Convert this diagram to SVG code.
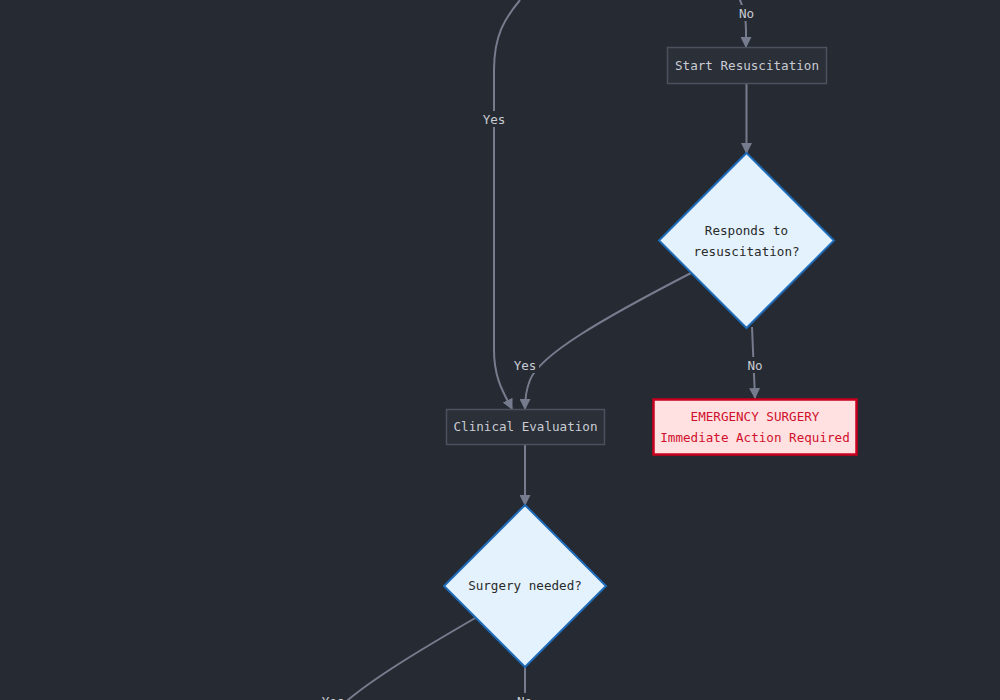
<svg xmlns="http://www.w3.org/2000/svg" width="1000" height="700" viewBox="0 0 1000 700">
<defs>
<marker id="arr" viewBox="0 0 10 10" refX="9" refY="5" markerWidth="11" markerHeight="11" markerUnits="userSpaceOnUse" orient="auto">
<path d="M0,0 L10,5 L0,10 z" fill="#767c8d"/>
</marker>
<style>
.bg{fill:#262a33}
.edge{fill:none;stroke:#767c8d;stroke-width:2;marker-end:url(#arr)}
.edgeb{fill:none;stroke:#767c8d;stroke-width:2}
.lbl{font-family:"DejaVu Sans Mono","Liberation Mono",monospace;font-size:12.6px;fill:#c9ccd3;text-anchor:middle;dominant-baseline:central}
.lblbg{fill:#262a33}
.box{fill:#2b2f38;stroke:#4c515d;stroke-width:1.5}
.boxt{font-family:"DejaVu Sans Mono","Liberation Mono",monospace;font-size:12.6px;fill:#c9ccd3;text-anchor:middle;dominant-baseline:central}
.dia{fill:#e3f2fd;stroke:#1e6bb8;stroke-width:2}
.diat{font-family:"DejaVu Sans Mono","Liberation Mono",monospace;font-size:12.6px;fill:#2a2a2a;text-anchor:middle;dominant-baseline:central}
.emg{fill:#ffe1e1;stroke:#c8001e;stroke-width:2.5}
.emgt{font-family:"DejaVu Sans Mono","Liberation Mono",monospace;font-size:12.6px;fill:#d0102c;text-anchor:middle;dominant-baseline:central}
</style>
</defs>
<rect class="bg" x="0" y="0" width="1000" height="700"/>
<g id="connectors">
<path class="edge" d="M728,-20 C740,-5 746,10 746,30 L746,47"/>
<path class="edge" d="M520,0 C505,18 494,35 494,70 L494,350 C494,380 505,395 512,409"/>
<path class="edge" d="M746.5,83 L746.5,153"/>
<path class="edge" d="M691,273 C600,320 540,355 530,380 C526,390 525,398 525,409"/>
<path class="edge" d="M752,327 L755,398"/>
<path class="edge" d="M525,444 L525,505"/>
<path class="edgeb" d="M477,617 C420,650 370,680 342,705"/>
<path class="edgeb" d="M525,667 L525,710"/>
<rect class="lblbg" x="736" y="5" width="21" height="16"/>
<text class="lbl" x="746.5" y="13">No</text>
<rect class="lblbg" x="480" y="111" width="28" height="16"/>
<text class="lbl" x="494" y="119">Yes</text>
<rect class="lblbg" x="511" y="357" width="28" height="16"/>
<text class="lbl" x="525" y="365">Yes</text>
<rect class="lblbg" x="744" y="357" width="22" height="16"/>
<text class="lbl" x="755" y="365">No</text>
<rect class="lblbg" x="319" y="693" width="28" height="16"/>
<text class="lbl" x="333" y="701">Yes</text>
<rect class="lblbg" x="514" y="693" width="22" height="16"/>
<text class="lbl" x="524.5" y="701">No</text>
</g>
<g id="start-resuscitation">
<rect class="box" x="667.5" y="47.5" width="159" height="36"/>
<text class="boxt" x="747" y="65.5">Start Resuscitation</text>
</g>
<g id="responds-to-resuscitation">
<polygon class="dia" points="746.5,153 834,240.5 746.5,328 659,240.5"/>
<text class="diat" x="746.5" y="230.5">Responds to</text>
<text class="diat" x="746.5" y="251.5">resuscitation?</text>
</g>
<g id="emergency-surgery">
<rect class="emg" x="653.5" y="399.5" width="203" height="55"/>
<text class="emgt" x="755" y="416">EMERGENCY SURGERY</text>
<text class="emgt" x="755" y="437">Immediate Action Required</text>
</g>
<g id="clinical-evaluation">
<rect class="box" x="446.5" y="409.5" width="158" height="35"/>
<text class="boxt" x="525.5" y="426.5">Clinical Evaluation</text>
</g>
<g id="surgery-needed">
<polygon class="dia" points="525,505 606,586 525,667 444,586"/>
<text class="diat" x="525" y="585.5">Surgery needed?</text>
</g>
</svg>
